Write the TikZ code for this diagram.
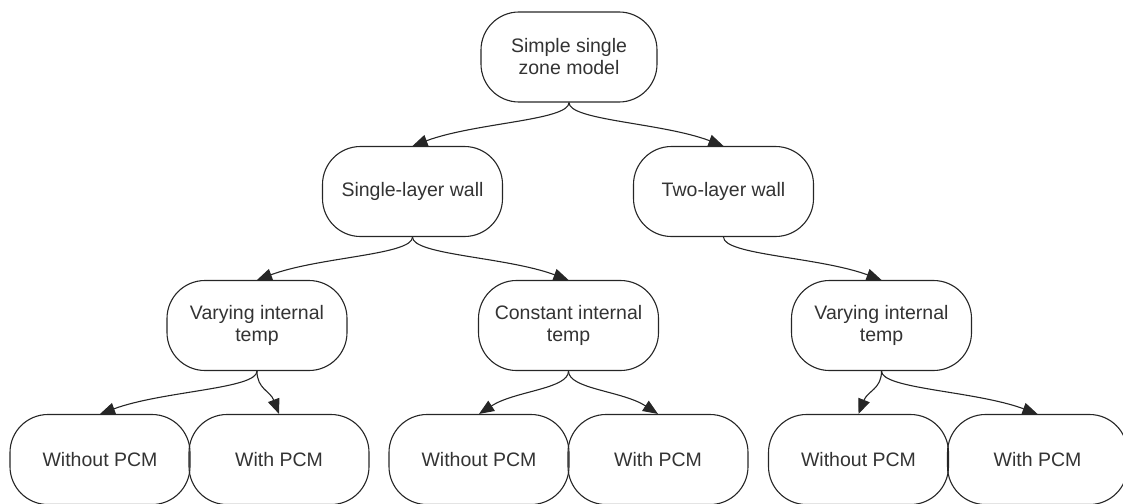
\documentclass[tikz,border=0pt]{standalone}
\usepackage{fontspec}
\setmainfont{Liberation Sans}
\usetikzlibrary{arrows.meta,calc}
\begin{document}
\begin{tikzpicture}[x=1pt,y=1pt,
  box/.style={draw=black!85, line width=1.1pt, rounded corners=38pt,
    minimum width=180pt, minimum height=90pt, align=center, inner sep=0pt,
    text=black!80, font=\fontsize{19.5}{22}\selectfont},
  conn/.style={draw=black!85, line width=1.1pt,
    -{Triangle[length=15pt,width=12pt]}}]
\useasboundingbox (0,0) rectangle (1123,-503);
\clip (0,0) rectangle (1123,-503);
\node[box, minimum width=176pt] (root) at (569,-57) {Simple single\\zone model};
\node[box] (sl) at (412.5,-191.5) {Single-layer wall};
\node[box] (tl) at (723.5,-191.5) {Two-layer wall};
\node[box] (v1) at (257,-325.5) {Varying internal\\temp};
\node[box] (cn) at (568.5,-325.5) {Constant internal\\temp};
\node[box] (v2) at (881.5,-325.5) {Varying internal\\temp};
\node[box] (w1) at (100,-459.5) {Without PCM};
\node[box] (p1) at (279,-459.5) {With PCM};
\node[box] (w2) at (479,-459.5) {Without PCM};
\node[box] (p2) at (658,-459.5) {With PCM};
\node[box] (w3) at (858.5,-459.5) {Without PCM};
\node[box] (p3) at (1037.5,-459.5) {With PCM};
\foreach \p/\c in {root/sl, root/tl, sl/v1, sl/cn, tl/v2, v1/w1, v1/p1, cn/w2, cn/p2, v2/w3, v2/p3}{
  \draw[conn] (\p.south) .. controls +(0,-18) and ($(\c.north)!0.4!(\p.south)+(0,6)$) .. (\c.north);
}
\end{tikzpicture}
\end{document}
